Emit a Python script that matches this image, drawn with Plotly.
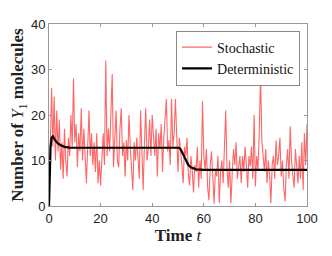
import numpy as np
import plotly.graph_objects as go

# Stochastic trajectory (t = 0, 0.5, ..., 100)
stoch_t = [i * 0.5 for i in range(201)]
stoch_y = [
    0, 15, 26, 13, 24, 10, 21, 12, 19, 8,
    14, 6, 17, 10, 6.5, 15, 11, 20, 13, 28,
    14, 18, 8.5, 16, 12, 21.5, 10, 17, 9, 5,
    13, 21, 11, 16, 9, 14, 7.5, 16, 5, 10,
    4.5, 12, 16, 9, 32, 11, 17, 12, 20, 29,
    8.5, 15, 21, 10, 8.5, 17, 21.5, 11, 14, 6.5,
    14.5, 10, 20, 13, 9, 3.5, 14, 10, 15, 9,
    6, 21, 12, 3.5, 14, 21.5, 10, 12.5, 19, 11,
    20, 14, 11, 17, 6.5, 16, 12.5, 18, 7.5, 15,
    18.5, 23.5, 12, 14.5, 9, 23.5, 13, 16, 23.5, 13,
    7.5, 15, 12.5, 9, 5, 13, 11, 15, 7, 4.5,
    11, 8, 3, 9, 7.5, 13, 4, 10, 6, 23,
    11, 8, 12.5, 4, 1.3, 9, 12, 5, 0.5, 8,
    6.5, 11, 0.6, 7.5, 10, 5, 12, 21, 8, 4,
    10, 0.6, 7, 12.5, 9, 14, 6, 8.7, 11, 5,
    11, 7.5, 13, 9, 4, 11, 8.7, 13, 6, 20,
    4.3, 11, 8, 16, 29, 14.4, 10, 7.6, 12.5, 5,
    10, 7, 0.6, 9, 11, 6, 14.4, 9, 11, 15,
    6.5, 10, 4, 1, 9, 12.5, 6, 17.5, 10, 7,
    4, 12.5, 8, 5, 11, 6, 14, 3.5, 16, 9,
    18,
]

# Deterministic solution
det_t = [0, 0.3, 0.6, 1, 1.5, 2, 3, 4, 5, 6, 8, 10, 50, 50.5, 51, 52, 53, 54, 55, 56, 57, 60, 100]
det_y = [0, 8, 13, 15, 15.3, 14.8, 14, 13.5, 13.2, 13, 12.85, 12.8, 12.8, 12.75, 12.5, 11.2, 9.9, 9.0, 8.5, 8.2, 8.05, 7.95, 7.95]

x_ticks = [0, 20, 40, 60, 80, 100]
y_ticks = [0, 10, 20, 30, 40]

SERIF = '"Liberation Serif", "Times New Roman", serif'
SANS = '"Liberation Sans", Arial, sans-serif'

fig = go.Figure()
fig.add_trace(go.Scatter(x=stoch_t, y=stoch_y, mode="lines", name="Stochastic",
                         line=dict(color="rgb(255,102,102)", width=1.1)))
fig.add_trace(go.Scatter(x=det_t, y=det_y, mode="lines", name="Deterministic",
                         line=dict(color="black", width=2.2)))

axis_common = dict(showline=True, linecolor="#999999", linewidth=1, mirror="ticks",
                   ticks="inside", ticklen=3, tickcolor="#999999", showgrid=False,
                   zeroline=False, automargin=False,
                   tickfont=dict(family=SANS, size=13, color="#222"))

fig.update_xaxes(range=[0, 100], tickvals=x_ticks,
                 title=dict(text="<b>Time </b><i>t</i>", font=dict(family=SERIF, size=17, color="#222"), standoff=3),
                 **axis_common)
fig.update_yaxes(range=[0, 40], tickvals=y_ticks,
                 title=dict(text="<b>Number of </b><i>Y</i><sub>1</sub><b> molecules</b>", font=dict(family=SERIF, size=17, color="#222"), standoff=6),
                 **axis_common)

fig.update_layout(
    width=316, height=240,
    margin=dict(l=41, r=17, t=16, b=42),
    paper_bgcolor="white", plot_bgcolor="white",
    legend=dict(x=0.973, y=0.964, xanchor="right", yanchor="top",
                bgcolor="white", bordercolor="#888888", borderwidth=1,
                font=dict(family=SERIF, size=14, color="#111"),
                tracegroupgap=0, itemwidth=30),
    showlegend=True,
)

fig.write_html("out.html")
